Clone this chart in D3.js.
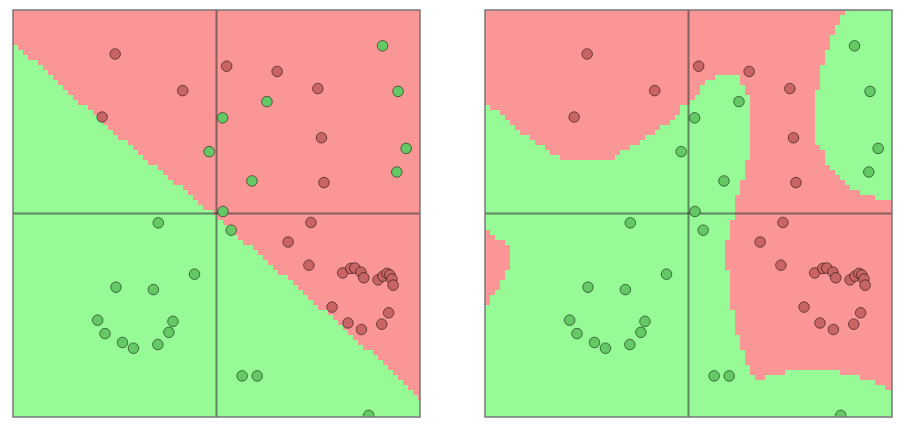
<!DOCTYPE html>
<html>
<head>
<meta charset="utf-8">
<script src="https://cdn.jsdelivr.net/npm/d3@7"></script>
<style>
  html, body { margin: 0; padding: 0; background: #fff; }
  svg { display: block; }
</style>
</head>
<body>
<svg id="chart" width="908" height="436"></svg>
<script>
// ---- data (feature space is [-5, 5] on both axes) ----
const redPoints = [
  [-2.49, 3.92], [-0.83, 3.02], [-2.81, 2.37], [0.25, 3.62], [1.49, 3.49],
  [2.49, 3.07], [2.58, 1.86], [2.64, 0.76], [2.32, -0.22], [1.76, -0.70],
  [2.27, -1.27], [3.10, -1.46], [3.30, -1.35], [3.40, -1.34], [3.55, -1.44],
  [3.62, -1.58], [3.97, -1.63], [4.09, -1.54], [4.19, -1.47], [4.26, -1.51],
  [4.31, -1.61], [4.34, -1.76], [2.84, -2.30], [3.23, -2.69], [3.56, -2.85],
  [4.06, -2.72], [4.23, -2.44]
];
const greenPoints = [
  [4.08, 4.12], [4.46, 3.00], [1.24, 2.75], [0.15, 2.35], [-0.18, 1.52],
  [4.66, 1.60], [4.43, 1.02], [0.87, 0.80], [0.16, 0.05], [-1.43, -0.23],
  [0.36, -0.41], [-0.54, -1.49], [-2.47, -1.81], [-1.55, -1.87], [-2.92, -2.62],
  [-1.07, -2.65], [-2.74, -2.95], [-1.17, -2.92], [-2.31, -3.17], [-2.04, -3.31],
  [-1.44, -3.22], [0.63, -3.99], [1.00, -3.99], [3.74, -4.96]
];
// region predicted "red" by the linear classifier (left panel)
const linearRedRegion = [
  [-5.5, 5.5], [-5.5, 4.6], [-5, 4.21], [-2.62, 2.08], [-0.04, -0.06], [2.05, -1.88],
  [4.51, -4.04], [5, -4.53], [5.5, -4.9], [5.5, 5.5]
];
// regions predicted "red" by the RBF classifier (right panel)
const rbfRedMain = [
  [-5.5, 5.5], [3.95, 5.5], [3.89, 5], [3.77, 4.83], [3.65, 4.58], [3.53, 4.31], [3.40, 3.94],
  [3.28, 3.57], [3.16, 2.96], [3.16, 1.73], [3.28, 1.56], [3.35, 1.31], [3.53, 1.07],
  [3.77, 0.82], [3.97, 0.65], [4.16, 0.53], [4.53, 0.41], [4.90, 0.33], [5.5, 0.28],
  [5.5, -4.41], [4.90, -4.34], [4.66, -4.19], [4.41, -4.09], [3.92, -3.97],
  [3.40, -3.80], [2.79, -3.80], [2.25, -3.94], [1.66, -4.07], [1.54, -3.89],
  [1.41, -3.67], [1.27, -3.18], [1.14, -2.69], [1.02, -2.05], [0.95, -1.29],
  [0.95, -0.70], [1.02, -0.41], [1.14, 0.01], [1.17, 0.33], [1.29, 0.70],
  [1.41, 1.19], [1.51, 1.56], [1.51, 2.84], [1.39, 3.03], [1.27, 3.33],
  [1.02, 3.45], [0.77, 3.45], [0.45, 3.21], [0.21, 2.96], [-0.01, 2.74],
  [-0.14, 2.62], [-0.38, 2.35], [-0.63, 2.13], [-0.95, 1.93], [-1.27, 1.73],
  [-1.61, 1.56], [-1.86, 1.34], [-2.99, 1.34], [-3.35, 1.46], [-3.57, 1.63],
  [-3.82, 1.81], [-4.07, 1.98], [-4.21, 2.10], [-4.39, 2.30], [-4.63, 2.42],
  [-4.80, 2.59], [-5, 2.68], [-5.5, 2.71]
];
const rbfRedBlob = [
  [-5.5, -0.43], [-4.88, -0.43], [-4.83, -0.58], [-4.61, -0.63], [-4.46, -0.75],
  [-4.39, -0.90], [-4.39, -1.29], [-4.48, -1.44], [-4.58, -1.63], [-4.68, -1.81],
  [-4.78, -1.98], [-4.88, -2.15], [-4.98, -2.27], [-5.5, -2.29]
];
const domain = [-5, 5];

(function draw() {
  // ---- layout ----
  const size = 407, panelTop = 10, cell = 5;
  const panels = [
    { x0: 13, regions: [linearRedRegion] },
    { x0: 485, regions: [rbfRedMain, rbfRedBlob] }
  ];
  const colors = {
    redBg: "rgb(250,150,150)", greenBg: "rgb(150,250,150)",
    redPt: "rgb(200,100,100)", greenPt: "rgb(100,200,100)"
  };

  const svg = d3.select("#chart");

  panels.forEach((p, k) => {
    const x = d3.scaleLinear().domain(domain).range([p.x0, p.x0 + size]);
    const y = d3.scaleLinear().domain(domain).range([panelTop + size, panelTop]);
    const g = svg.append("g");
    const clipId = "clip" + k;
    svg.append("clipPath").attr("id", clipId)
      .append("rect").attr("x", p.x0).attr("y", panelTop).attr("width", size).attr("height", size);

    const bg = g.append("g").attr("clip-path", `url(#${clipId})`);
    bg.append("rect").attr("x", p.x0).attr("y", panelTop).attr("width", size).attr("height", size)
      .attr("fill", colors.greenBg);

    // rasterize the decision regions on a coarse grid
    const runs = [];
    const nCells = Math.ceil(size / cell);
    for (let jj = 0; jj < nCells; jj++) {
      const j = jj * cell;
      let start = null;
      for (let ii = 0; ii <= nCells; ii++) {
        const i = ii * cell;
        let red = false;
        if (ii < nCells) {
          const dx = x.invert(p.x0 + i + cell / 2), dy = y.invert(panelTop + j + cell / 2);
          red = p.regions.some(r => d3.polygonContains(r, [dx, dy]));
        }
        if (red && start === null) start = i;
        if (!red && start !== null) { runs.push({ i: start, j, w: i - start }); start = null; }
      }
    }
    bg.selectAll("rect.cell").data(runs).join("rect").attr("class", "cell")
      .attr("x", d => p.x0 + d.i).attr("y", d => panelTop + d.j)
      .attr("width", d => d.w).attr("height", cell)
      .attr("fill", colors.redBg).attr("shape-rendering", "crispEdges");

    // axes through origin
    bg.append("line").attr("x1", x(0)).attr("x2", x(0)).attr("y1", panelTop).attr("y2", panelTop + size)
      .attr("stroke", "rgba(60,60,60,0.6)").attr("stroke-width", 2);
    bg.append("line").attr("x1", p.x0).attr("x2", p.x0 + size).attr("y1", y(0)).attr("y2", y(0))
      .attr("stroke", "rgba(60,60,60,0.6)").attr("stroke-width", 2);

    // points
    const pts = bg.append("g");
    pts.selectAll("circle.r").data(redPoints).join("circle").attr("class", "r")
      .attr("cx", d => x(d[0])).attr("cy", d => y(d[1])).attr("r", 5.3)
      .attr("fill", colors.redPt).attr("stroke", "rgba(0,0,0,0.5)").attr("stroke-width", 1);
    pts.selectAll("circle.g").data(greenPoints).join("circle").attr("class", "g")
      .attr("cx", d => x(d[0])).attr("cy", d => y(d[1])).attr("r", 5.3)
      .attr("fill", colors.greenPt).attr("stroke", "rgba(0,0,0,0.5)").attr("stroke-width", 1);

    // frame
    g.append("rect").attr("x", p.x0).attr("y", panelTop).attr("width", size).attr("height", size)
      .attr("fill", "none").attr("stroke", "#777").attr("stroke-width", 1.5);
  });
})();
</script>
</body>
</html>
